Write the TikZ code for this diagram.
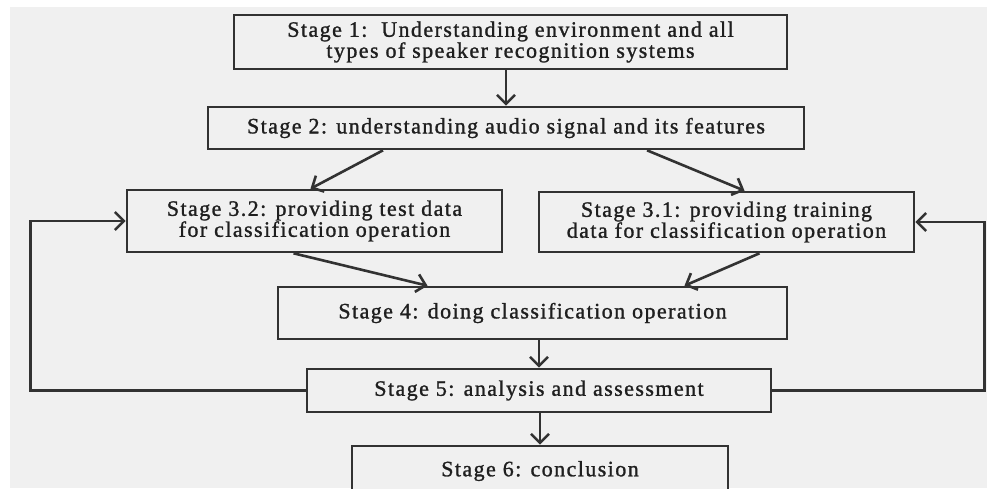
\documentclass[tikz,border=0pt]{standalone}
\usepackage{fontspec}
\setmainfont{Liberation Serif}
\usepackage{tikz}
\usetikzlibrary{arrows.meta, calc}

\definecolor{bggray}{RGB}{240,240,240}
\definecolor{linegray}{RGB}{50,50,50}
\newcommand{\stagefont}{\fontsize{22}{21}\selectfont\addfontfeature{LetterSpace=6.5, FakeBold=1.2}}

\begin{document}
\begin{tikzpicture}[
    x=1pt, y=-1pt,
    stage/.style={rectangle, draw=linegray, fill=bggray, line width=2.6pt, inner sep=0pt, align=center, font=\stagefont, text=black!88},
    link/.style={draw=linegray, line width=2.6pt, -{Straight Barb[length=9pt, width=18pt]}}
]

% --- Page and grey backdrop ---
\useasboundingbox (0,0) rectangle (987,488);
\fill[bggray] (10,7) rectangle (987,488);

% --- Stages, top to bottom ---
\node[stage, minimum width=553pt, minimum height=54pt] (s1) at (510.5,42) {Stage 1:\ \ Understanding environment and all\\types of speaker recognition systems};
\node[stage, minimum width=596pt, minimum height=42pt] (s2) at (506,128) {Stage 2: understanding audio signal and its features};

% --- Two branches: test data (left), training data (right) ---
\node[stage, minimum width=375pt, minimum height=62pt] (s32) at (314.5,221) {Stage 3.2: providing test data\\for classification operation};
\node[stage, minimum width=375pt, minimum height=60pt] (s31) at (726.5,222) {Stage 3.1: providing training\\data for classification operation};

\node[stage, minimum width=509pt, minimum height=52pt] (s4) at (532.5,313) {Stage 4: doing classification operation};
\node[stage, minimum width=464pt, minimum height=43pt] (s5) at (539,390.5) {Stage 5: analysis and assessment};
\node[stage, minimum width=376pt, minimum height=50pt] (s6) at (540,471) {Stage 6: conclusion};

% --- Forward flow ---
\draw[link] (s2.north |- s1.south) -- (s2.north);
\draw[link] ([xshift=-123pt]s2.south) -- ([xshift=-4pt]s32.north);
\draw[link] ([xshift=141pt]s2.south) -- ([xshift=18pt]s31.north);
\draw[link] ([xshift=-21pt]s32.south) -- ([xshift=-105pt]s4.north);
\draw[link] ([xshift=33pt]s31.south) -- ([xshift=152pt]s4.north);
\draw[link] (s5.north |- s4.south) -- (s5.north);
\draw[link] (s6.north |- s5.south) -- (s6.north);

% --- Feedback from assessment back to both data stages ---
\draw[link] (s5.west) -- ++(-275,0) |- (s32.west);
\draw[link] (s5.east) -- ++(212,0) |- (s31.east);

\end{tikzpicture}
\end{document}
